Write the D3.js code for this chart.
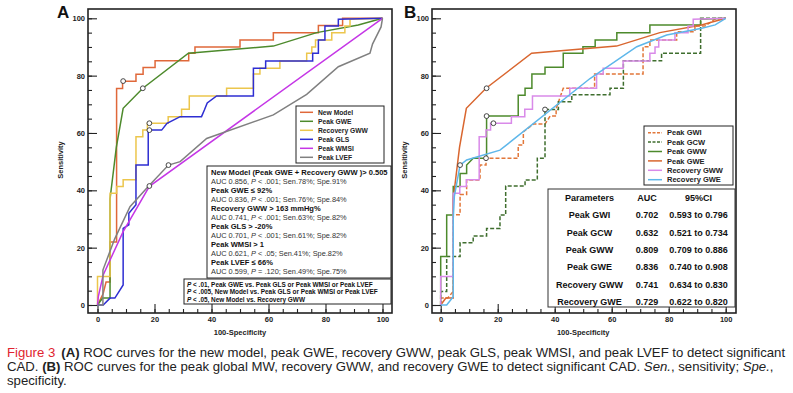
<!DOCTYPE html>
<html>
<head>
<meta charset="utf-8">
<script src="https://cdn.jsdelivr.net/npm/d3@7"></script>
<style>
  body { margin: 0; background: #fff; }
  svg { display: block; }
  text { font-family: "Liberation Sans", Arial, sans-serif; }
</style>
</head>
<body>
<div id="fig"></div>
<script>
// ---- data, [100-specificity, sensitivity] ----
const newModel = [[0,0],[2,4],[3,8],[4.4,8],[4.4,22],[6.7,22],[6.7,75.5],[8.8,75.5],[8.8,78],[13.5,78],[13.5,80.5],[16,80.5],[16,82.8],[20.2,82.8],[20.2,85.2],[32,85.2],[32,87.8],[34.2,87.8],[34.2,90],[50,90],[50,92.4],[61.7,92.4],[61.7,95],[77.5,95],[77.5,97.5],[86,97.5],[86,100],[100,100]];
const peakGWE = [[0,0],[1.8,2.4],[4.4,2.4],[4.4,6],[4.4,37],[6.6,55],[9,68.6],[15.9,75.6],[31.9,87.8],[61.7,90.3],[76.9,95],[91.5,97.7],[100,100]];
const recoveryGWW = [[0,0],[0,9.9],[4.4,9.9],[4.4,39],[6.7,39],[6.7,41.3],[9,41.3],[9,43.7],[13.5,43.7],[13.5,58.7],[15.9,58.7],[15.9,61],[17.5,61],[17.5,63.4],[24.8,63.4],[24.8,65.7],[29.5,65.7],[29.5,68.3],[32.2,68.3],[32.2,72.9],[45.3,72.9],[45.3,75.6],[54.7,75.6],[54.7,80.6],[57,80.6],[57,82.6],[64,82.6],[64,85.1],[73.4,85.1],[73.4,87.8],[75.2,87.8],[75.2,90],[76.5,90],[76.5,92.4],[82.2,92.4],[82.2,95],[86.8,95],[86.8,97.3],[88.6,97.3],[88.6,99.7],[100,100]];
const peakGLS = [[0,0],[2,0],[4.4,2.4],[6.1,2.4],[9,7],[9,26.7],[11,28],[11,32],[13.5,35],[13.5,48.8],[17.8,48.8],[17.8,61],[22.5,61],[24.4,63.4],[29,65.7],[36.5,65.7],[37.5,68],[38.5,70.5],[41.8,72.9],[54.7,72.9],[54.7,82.6],[59,82.6],[59,85.1],[75.5,85.1],[75.5,87.8],[77.5,87.8],[77.5,92.4],[79.8,92.4],[79.8,97.3],[84.5,97.3],[84.5,99.7],[100,100]];
const peakWMSI = [[0,0],[0.3,3],[2,10.5],[9,25.6],[18.2,41.4],[100,100]];
const peakLVEF = [[0,0],[1.9,0],[1.9,12.2],[6,23],[11.4,34.3],[17.8,41.3],[24.9,48.8],[29,50],[38.3,58.1],[61.7,66.3],[73.4,73.5],[84.5,83.1],[95.6,87.8],[96.5,91],[99.5,97],[100,100]];

const peakGWI = [[0,0],[0,2.4],[2.4,2.4],[4.4,4.7],[4.4,31.5],[6.8,31.5],[6.8,38.5],[9.1,38.5],[9.1,43.6],[13.8,43.6],[13.8,48.8],[15.9,48.8],[15.9,51.2],[27.2,51.2],[27.2,55.8],[29,55.8],[29,60.4],[32.5,63.1],[36.6,63.1],[38.4,65.9],[40.5,65.9],[40.5,68.5],[43,75.6],[54,75.6],[54,80.6],[71,80.6],[71,90.1],[73.4,90.1],[73.4,92.4],[82.8,92.4],[82.8,95.3],[89.2,95.3],[89.2,97.3],[92.7,97.3],[96.2,99.7],[100,100]];
const peakGCW = [[0,0],[0,4.7],[2.1,4.7],[2.1,16.9],[6.8,16.9],[6.8,21.7],[11.4,21.7],[11.4,24.1],[16.1,24.1],[16.1,26.7],[20.8,26.7],[20.8,31.4],[22.8,31.4],[22.8,41.5],[29.6,41.5],[29.6,43.6],[33.9,43.6],[33.9,51.2],[36.6,51.2],[36.6,68.2],[41.3,68.2],[41.3,70.9],[46,70.9],[46,73.3],[59.4,73.3],[59.4,75.6],[64.1,75.6],[64.1,85.2],[77.5,85.2],[77.5,87.8],[91.2,87.8],[91.2,100],[100,100]];
const peakGWW = [[0,0],[0,16.9],[2.1,16.9],[2.1,31.4],[4.4,31.4],[4.4,41.3],[6.8,41.3],[6.8,45.9],[9.1,45.9],[9.1,48.8],[11.4,51.2],[16.1,51.2],[16.1,65.9],[27.2,65.9],[27.2,73.2],[29.6,73.2],[29.6,75.6],[32,75.6],[32,80.6],[36.6,80.6],[36.6,82.9],[43,82.9],[43,87.8],[49.9,87.8],[49.9,90.1],[54.2,90.1],[54.2,92.4],[61.8,92.4],[61.8,95],[73.4,95],[73.4,97.7],[91.2,97.7],[91.2,99.7],[100,100]];
const recoveryGWE = [[0,0],[2.1,0],[4.4,2.9],[4.4,30],[4.8,38],[6.8,48.8],[9.1,50.6],[20.8,54],[52.4,79],[68.8,90.1],[79.3,94.2],[91.6,96.5],[96.3,97.7],[100,100]];

// cut-off markers
const markersA = [[9,78.1],[15.9,75.6],[18.2,63.4],[18.2,61],[18.2,41.5],[24.9,48.8]];
const markersB = [[6.8,48.8],[16.1,75.6],[16.1,65.9],[18.5,63.4],[15.9,51.2],[36.6,68.2]];

const legendA = ["New Model","Peak GWE","Recovery GWW","Peak GLS","Peak WMSI","Peak LVEF"];
const legendB = ["Peak GWI","Peak GCW","Peak GWW","Peak GWE","Recovery GWW","Recovery GWE"];

const tableHeader = ["Parameters","AUC","95%CI"];
const tableAUC = ["0.702","0.632","0.809","0.836","0.741","0.729"];
const tableCI = ["0.593 to 0.796","0.521 to 0.734","0.709 to 0.886","0.740 to 0.908","0.634 to 0.830","0.622 to 0.820"];

const notesA = [
  ["New Model (Peak GWE + Recovery GWW )> 0.505", "0.856", "< .001", "78%", "91%"],
  ["Peak GWE \u2264 92%", "0.836", "< .001", "76%", "84%"],
  ["Recovery GWW > 163 mmHg%", "0.741", "< .001", "63%", "82%"],
  ["Peak GLS > -20%", "0.701", "< .001", "61%", "82%"],
  ["Peak WMSI > 1", "0.621", "< .05", "41%", "82%"],
  ["Peak LVEF \u2264 66%", "0.599", "= .120", "49%", "75%"]
];
const pNotes = [
  "< .01, Peak GWE vs. Peak GLS or Peak WMSI or Peak LVEF",
  "< .005, New Model vs. Peak GLS or Peak WMSI or Peak LVEF",
  "< .05, New Model vs. Recovery GWW"
];

const seriesA = [
  {name: "New Model", data: newModel, color: "#e0683a"},
  {name: "Peak GWE", data: peakGWE, color: "#4d8a2c"},
  {name: "Recovery GWW", data: recoveryGWW, color: "#ecc64c"},
  {name: "Peak GLS", data: peakGLS, color: "#2e2ed2"},
  {name: "Peak WMSI", data: peakWMSI, color: "#c536e6"},
  {name: "Peak LVEF", data: peakLVEF, color: "#808080"}
];
const seriesB = [
  {name: "Peak GWI", data: peakGWI, color: "#e2773a", dash: "4,2"},
  {name: "Peak GCW", data: peakGCW, color: "#3f6e2e", dash: "4,2"},
  {name: "Peak GWW", data: peakGWW, color: "#4d8a2c"},
  {name: "Peak GWE", data: peakGWE, color: "#d9662f"},
  {name: "Recovery GWW", data: recoveryGWW, color: "#d98ae9"},
  {name: "Recovery GWE", data: recoveryGWE, color: "#5eb7ea"}
];

const W = 793, H = 393;
const svg = d3.select("#fig").append("svg").attr("width", W).attr("height", H);

// scale a group's font so that one of its texts gets the width seen in the picture
function fitFont(group, probe, target) {
  const cur = parseFloat(group.style("font-size"));
  const len = probe.node().getComputedTextLength();
  if (len > 0) group.style("font-size", (cur * target / len) + "px");
}

function panel(opt) {
  const g = svg.append("g");
  const x = d3.scaleLinear().domain([0, 100]).range([opt.x0, opt.x100]);
  const y = d3.scaleLinear().domain([0, 100]).range([305, 18.3]);
  const fr = {l: opt.left, r: opt.right, t: 9, b: 313};

  // minor ticks
  const minor = d3.range(0, 101, 5);
  g.append("g").attr("transform", `translate(0,${fr.b})`)
    .call(d3.axisBottom(x).tickValues(minor).tickSizeInner(-4).tickSizeOuter(0).tickFormat(""))
    .call(a => a.select(".domain").remove());
  g.append("g").attr("transform", `translate(${fr.l},0)`)
    .call(d3.axisLeft(y).tickValues(minor).tickSizeInner(-4).tickSizeOuter(0).tickFormat(""))
    .call(a => a.select(".domain").remove());
  // major ticks + labels
  const major = d3.range(0, 101, 20);
  g.append("g").attr("transform", `translate(0,${fr.b})`)
    .call(d3.axisBottom(x).tickValues(major).tickSizeInner(-9).tickSizeOuter(0).tickPadding(3))
    .call(a => a.select(".domain").remove())
    .call(a => a.selectAll("text").attr("y", 4).attr("dy", "0.71em"));
  g.append("g").attr("transform", `translate(${fr.l},0)`)
    .call(d3.axisLeft(y).tickValues(major).tickSizeInner(-9).tickSizeOuter(0).tickPadding(3))
    .call(a => a.select(".domain").remove())
    .call(a => a.selectAll("text").attr("x", -3));
  g.selectAll(".tick line").attr("stroke", "#222").attr("stroke-width", 1.1);
  g.selectAll(".tick text").attr("fill", "#222").style("font-size", "7.5px").style("font-weight", "bold")
    .style("font-family", '"Liberation Sans", Arial, sans-serif');

  g.append("rect").attr("x", fr.l).attr("y", fr.t).attr("width", fr.r - fr.l).attr("height", fr.b - fr.t)
    .attr("fill", "none").attr("stroke", "#222").attr("stroke-width", 1.6);

  g.append("text").attr("x", (opt.x0 + opt.x100) / 2).attr("y", 335)
    .attr("text-anchor", "middle").style("font-size", "7.5px").style("font-weight", "bold").attr("fill", "#222")
    .text("100-Specificity");
  g.append("text").attr("transform", `translate(${opt.left - 25},160) rotate(-90)`)
    .attr("text-anchor", "middle").style("font-size", "7.5px").style("font-weight", "bold").attr("fill", "#222")
    .text("Sensitivity");
  g.append("text").attr("x", opt.letterX).attr("y", 18).style("font-size", "17px").style("font-weight", "bold")
    .attr("fill", "#111").text(opt.letter);

  const line = d3.line().x(d => x(d[0])).y(d => y(d[1]));
  g.selectAll("path.roc").data(opt.series).join("path").attr("class", "roc")
    .attr("d", d => line(d.data)).attr("fill", "none")
    .attr("stroke", d => d.color).attr("stroke-width", 1.5)
    .attr("stroke-dasharray", d => d.dash || null);

  g.selectAll("circle.cut").data(opt.markers).join("circle").attr("class", "cut")
    .attr("cx", d => x(d[0])).attr("cy", d => y(d[1])).attr("r", 2.4)
    .attr("fill", "#fff").attr("stroke", "#333").attr("stroke-width", 0.9);

  return {g, x, y};
}

// ---------- panel A ----------
const A = panel({left: 88, right: 392, x0: 97.5, x100: 382.5, letter: "A", letterX: 57, series: seriesA, markers: markersA});

// legend A
const lgA = A.g.append("g");
lgA.append("rect").attr("x", 296).attr("y", 106).attr("width", 88).attr("height", 57)
  .attr("fill", "#fff").attr("stroke", "#222").attr("stroke-width", 1);
const lgAText = lgA.append("g").style("font-size", "7px").style("font-weight", "bold");
seriesA.forEach((s, i) => {
  const yy = 112.3 + i * 9;
  lgA.append("line").attr("x1", 300).attr("x2", 313).attr("y1", yy).attr("y2", yy)
    .attr("stroke", s.color).attr("stroke-width", 1.5);
  lgAText.append("text").attr("x", 318).attr("y", yy).attr("dy", "0.35em")
    .attr("fill", "#222").text(legendA[i]);
});
fitFont(lgAText, lgAText.selectAll("text").filter((d, i) => i === 2), 50);

// cut-off notes box
const nb = A.g.append("g");
nb.append("rect").attr("x", 207).attr("y", 166).attr("width", 184).attr("height", 112)
  .attr("fill", "#fff").attr("stroke", "#222").attr("stroke-width", 1);
const nbHead = nb.append("g").style("font-size", "7px").style("font-weight", "bold");
const nbBody = nb.append("g").style("font-size", "7px");
notesA.forEach((n, i) => {
  const y1 = 172.7 + i * 18;
  nbHead.append("text").attr("x", 211).attr("y", y1).attr("dy", "0.35em")
    .attr("fill", "#111").text(n[0]);
  const t = nbBody.append("text").attr("x", 211).attr("y", y1 + 9).attr("dy", "0.35em")
    .attr("fill", "#333");
  t.append("tspan").text(`AUC ${n[1]}, `);
  t.append("tspan").style("font-style", "italic").text("P");
  t.append("tspan").text(` ${n[2]}; Sen.${n[3]}; Spe.${n[4]}`);
});
fitFont(nbHead, nbHead.select("text"), 177);
fitFont(nbBody, nbBody.select("text"), 136);

// p-value box
const pb = A.g.append("g");
pb.append("rect").attr("x", 184).attr("y", 279).attr("width", 207).attr("height", 25)
  .attr("fill", "#fff").attr("stroke", "#222").attr("stroke-width", 1);
const pbText = pb.append("g").style("font-size", "6px").style("font-weight", "bold");
pNotes.forEach((p, i) => {
  const t = pbText.append("text").attr("x", 187).attr("y", 284.3 + i * 7.9).attr("dy", "0.35em")
    .attr("fill", "#111");
  t.append("tspan").style("font-style", "italic").text("P");
  t.append("tspan").text(" " + p);
});
fitFont(pbText, pbText.selectAll("text").filter((d, i) => i === 1), 191);

// ---------- panel B ----------
const B = panel({left: 432, right: 736, x0: 440.7, x100: 725.7, letter: "B", letterX: 404, series: seriesB, markers: markersB});

const lgB = B.g.append("g");
lgB.append("rect").attr("x", 644).attr("y", 126).attr("width", 89).attr("height", 59)
  .attr("fill", "#fff").attr("stroke", "#222").attr("stroke-width", 1);
const lgBText = lgB.append("g").style("font-size", "7px").style("font-weight", "bold");
seriesB.forEach((s, i) => {
  const yy = 132.7 + i * 9.4;
  lgB.append("line").attr("x1", 648).attr("x2", 662).attr("y1", yy).attr("y2", yy)
    .attr("stroke", s.color).attr("stroke-width", 1.5).attr("stroke-dasharray", s.dash ? "3,1.5" : null);
  lgBText.append("text").attr("x", 667).attr("y", yy).attr("dy", "0.35em")
    .attr("fill", "#222").text(legendB[i]);
});
fitFont(lgBText, lgBText.selectAll("text").filter((d, i) => i === 4), 56);

// AUC table
const tb = B.g.append("g");
tb.append("rect").attr("x", 548).attr("y", 189).attr("width", 187).attr("height", 118)
  .attr("fill", "#fff").attr("stroke", "#333").attr("stroke-width", 1);
const tbText = tb.append("g").style("font-size", "9px").style("font-weight", "bold");
const colX = [589.5, 647, 698.5];
tableHeader.forEach((h, j) => {
  tbText.append("text").attr("x", colX[j]).attr("y", 197.7).attr("dy", "0.35em").attr("text-anchor", "middle")
    .attr("fill", "#111").text(h);
});
legendB.forEach((name, i) => {
  const yy = 215 + i * 17.4;
  [name, tableAUC[i], tableCI[i]].forEach((v, j) => {
    tbText.append("text").attr("x", colX[j]).attr("y", yy).attr("dy", "0.35em").attr("text-anchor", "middle")
      .attr("fill", "#111").text(v);
  });
});

// ---------- caption ----------
const cap = svg.append("g").style("font-size", "13px").attr("fill", "#222");
const l1 = cap.append("text").attr("x", 7).attr("y", 357);
l1.append("tspan").attr("fill", "#e0242f").text("Figure 3");
l1.append("tspan").attr("dx", 6).style("font-weight", "bold").text("(A)");
l1.append("tspan").text(" ROC curves for the new model, peak GWE, recovery GWW, peak GLS, peak WMSI, and peak LVEF to detect significant");
const l2 = cap.append("text").attr("x", 7).attr("y", 371);
l2.append("tspan").text("CAD. ");
l2.append("tspan").style("font-weight", "bold").text("(B)");
l2.append("tspan").text(" ROC curves for the peak global MW, recovery GWW, and recovery GWE to detect significant CAD. ");
l2.append("tspan").style("font-style", "italic").text("Sen.");
l2.append("tspan").text(", sensitivity; ");
l2.append("tspan").style("font-style", "italic").text("Spe.");
l2.append("tspan").text(",");
cap.append("text").attr("x", 7).attr("y", 385).text("specificity.");
fitFont(cap, l1, 773);
</script>
</body>
</html>
